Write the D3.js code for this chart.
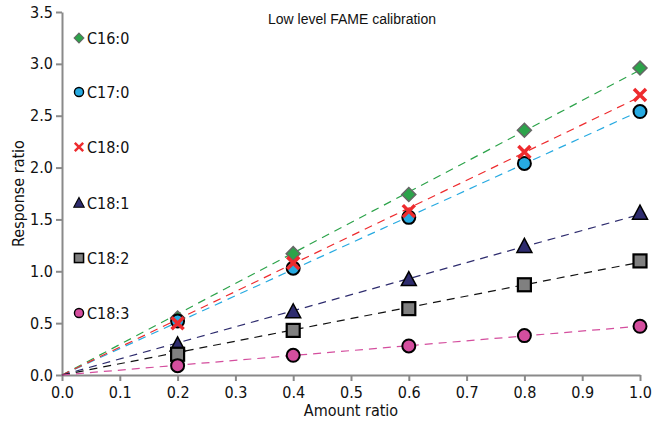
<!DOCTYPE html>
<html>
<head>
<meta charset="utf-8">
<script src="https://cdn.jsdelivr.net/npm/d3@7"></script>
<style>
  body { margin: 0; background: #fff; }
  text { font-family: "DejaVu Sans Condensed", "Liberation Sans Narrow", "Roboto", sans-serif; }
</style>
</head>
<body>
<script>
const amounts = [0.2, 0.4, 0.6, 0.8, 1.0];
const names = ["C16:0", "C17:0", "C18:0", "C18:1", "C18:2", "C18:3"];
const c160 = [0.55, 1.17, 1.74, 2.36, 2.96];
const c170 = [0.52, 1.03, 1.52, 2.04, 2.54];
const c180 = [0.50, 1.08, 1.58, 2.15, 2.70];
const c181 = [0.29, 0.61, 0.92, 1.24, 1.56];
const c182 = [0.20, 0.43, 0.64, 0.87, 1.10];
const c183 = [0.09, 0.19, 0.28, 0.38, 0.47];
const xTicks = [0, 0.1, 0.2, 0.3, 0.4, 0.5, 0.6, 0.7, 0.8, 0.9, 1.0];
const yTicks = [0, 0.5, 1.0, 1.5, 2.0, 2.5, 3.0, 3.5];

const seriesValues = [c160, c170, c180, c181, c182, c183];
const colors = ["#2ca34a", "#27aae1", "#ee2b2e", "#2e2c6e", "#111111", "#d44e9e"];
const fills = ["#2ca34a", "#27aae1", "#ee2b2e", "#2e2c6e", "#808080", "#d44e9e"];
const shapes = ["diamond", "circle", "cross", "triangle", "square", "circle"];

const W = 664, H = 424;
const m = { left: 62, right: 24, top: 12, bottom: 49 };

const svg = d3.select('body').append('svg').attr('width', W).attr('height', H);

const x = d3.scaleLinear().domain([0, 1]).range([m.left, W - m.right]);
const y = d3.scaleLinear().domain([0, 3.5]).range([H - m.bottom, m.top]);

// axes
const xAxis = svg.append('g')
  .attr('transform', `translate(0,${H - m.bottom})`)
  .call(d3.axisBottom(x).tickValues(xTicks).tickFormat(d3.format('.1f')).tickSize(6).tickSizeOuter(0));
const yAxis = svg.append('g')
  .attr('transform', `translate(${m.left},0)`)
  .call(d3.axisLeft(y).tickValues(yTicks).tickFormat(d3.format('.1f')).tickSize(6).tickSizeOuter(0));

[xAxis, yAxis].forEach(g => {
  g.select('.domain').attr('stroke', '#8a8a8a').attr('stroke-width', 2);
  g.selectAll('.tick line').attr('stroke', '#8a8a8a').attr('stroke-width', 2);
  g.selectAll('.tick text').attr('fill', '#111').attr('font-size', '16px')
    .style('font-family', '"DejaVu Sans Condensed", sans-serif');
});
xAxis.selectAll('.tick text').attr('dy', '0.9em');
yAxis.selectAll('.tick text').attr('x', -9);

// titles
svg.append('text')
  .attr('x', 352).attr('y', 24)
  .attr('text-anchor', 'middle').attr('font-size', '14px').attr('fill', '#111')
  .style('font-family', '"Liberation Sans", Arial, sans-serif')
  .text('Low level FAME calibration');

svg.append('text')
  .attr('x', (x(0) + x(1)) / 2).attr('y', H - 8)
  .attr('text-anchor', 'middle').attr('font-size', '16px').attr('fill', '#111')
  .text('Amount ratio');

svg.append('text')
  .attr('transform', `translate(24,${y(1.75)}) rotate(-90)`)
  .attr('text-anchor', 'middle').attr('font-size', '16px').attr('fill', '#111')
  .text('Response ratio');

// trend lines through origin
seriesValues.forEach((vals, i) => {
  const slope = d3.sum(vals, (v, j) => v * amounts[j]) / d3.sum(amounts, a => a * a);
  svg.append('line')
    .attr('x1', x(0)).attr('y1', y(0))
    .attr('x2', x(1)).attr('y2', y(slope))
    .attr('stroke', colors[i]).attr('stroke-width', 1.2)
    .attr('stroke-dasharray', '8,6');
});

function drawMarker(g, shape, i) {
  if (shape === 'circle') {
    g.append('circle').attr('r', 6.5).attr('fill', fills[i]).attr('stroke', '#000').attr('stroke-width', 2);
  } else if (shape === 'diamond') {
    g.append('path').attr('d', 'M0,-7L7,0L0,7L-7,0Z').attr('fill', fills[i]).attr('stroke', '#666').attr('stroke-width', 1.5);
  } else if (shape === 'square') {
    g.append('rect').attr('x', -6.5).attr('y', -6.5).attr('width', 13).attr('height', 13)
      .attr('fill', fills[i]).attr('stroke', '#000').attr('stroke-width', 2.2);
  } else if (shape === 'triangle') {
    g.append('path').attr('d', 'M0,-8L7.5,6L-7.5,6Z').attr('fill', fills[i]).attr('stroke', '#000').attr('stroke-width', 1.5);
  } else if (shape === 'cross') {
    g.append('path').attr('d', 'M-6,-6L6,6M6,-6L-6,6').attr('stroke', fills[i]).attr('stroke-width', 3.5).attr('fill', 'none');
  }
}

// markers
seriesValues.forEach((vals, i) => {
  vals.forEach((v, j) => {
    const g = svg.append('g').attr('transform', `translate(${x(amounts[j])},${y(v)})`);
    drawMarker(g, shapes[i], i);
  });
});

// legend
const legendY = [38, 92, 147, 203, 258, 313];
names.forEach((n, i) => {
  const g = svg.append('g').attr('transform', `translate(79,${legendY[i]})`);
  const s = g.append('g').attr('transform', 'scale(0.7)');
  drawMarker(s, shapes[i], i);
  g.append('text').attr('x', 8).attr('y', 0).attr('dy', '0.35em')
    .attr('font-size', '16px').attr('fill', '#111').text(n);
});
</script>
</body>
</html>
